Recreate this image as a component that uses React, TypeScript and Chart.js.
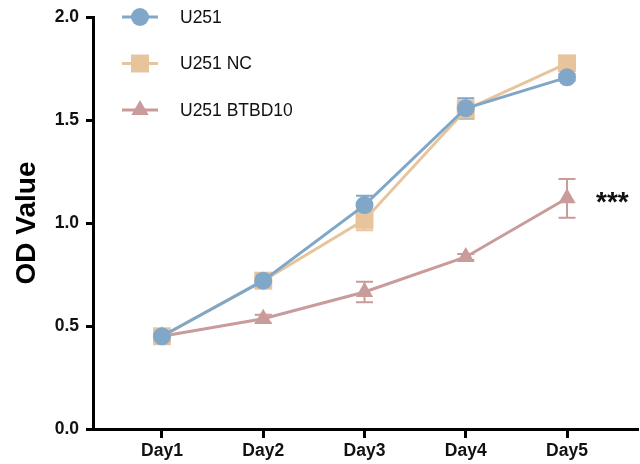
import { useEffect, useRef } from 'react';
import { Chart, registerables } from 'chart.js';

Chart.register(...registerables);

const days = ['Day1', 'Day2', 'Day3', 'Day4', 'Day5'];
const seriesLabels = ['U251', 'U251 NC', 'U251 BTBD10'];
const u251 = [0.45, 0.72, 1.087, 1.557, 1.707];
const u251Err = [0.01, 0.02, 0.045, 0.048, 0.015];
const u251NC = [0.45, 0.72, 1.015, 1.55, 1.775];
const u251NCErr = [0.01, 0.02, 0.05, 0.045, 0.02];
const btbd10 = [0.45, 0.535, 0.665, 0.835, 1.12];
const btbd10Err = [0.01, 0.02, 0.05, 0.015, 0.094];
const significance = '***';

const FONT = '"Liberation Sans", Arial, Helvetica, sans-serif';
const colors = ['#80A7C8', '#E8C49D', '#C99B9B'];
const pointStyles = ['circle', 'rect', 'triangle'];
const pointRadii = [9, 12.7, 10];

function drawMarker(ctx: CanvasRenderingContext2D, style: string, x: number, y: number, r: number) {
  ctx.beginPath();
  if (style === 'circle') {
    ctx.arc(x, y, r, 0, Math.PI * 2);
  } else if (style === 'rect') {
    const s = Math.SQRT1_2 * r;
    ctx.rect(x - s, y - s, 2 * s, 2 * s);
  } else {
    let rad = 0;
    ctx.moveTo(x + Math.sin(rad) * r, y - Math.cos(rad) * r);
    rad += (2 * Math.PI) / 3;
    ctx.lineTo(x + Math.sin(rad) * r, y - Math.cos(rad) * r);
    rad += (2 * Math.PI) / 3;
    ctx.lineTo(x + Math.sin(rad) * r, y - Math.cos(rad) * r);
    ctx.closePath();
  }
  ctx.fill();
}

export default function App() {
  const ref = useRef<HTMLCanvasElement | null>(null);

  useEffect(() => {
    document.body.style.margin = '0';
    const canvas = ref.current;
    if (!canvas) return;
    const values = [u251, u251NC, btbd10];
    const errors = [u251Err, u251NCErr, btbd10Err];

    const extras = {
      id: 'extras',
      beforeDatasetsDraw(chart: any) {
        const ctx = chart.ctx as CanvasRenderingContext2D;
        const xs = chart.scales.x;
        const ys = chart.scales.y;
        ctx.save();
        for (let d = values.length - 1; d >= 0; d--) {
          ctx.strokeStyle = colors[d];
          ctx.lineWidth = 2;
          values[d].forEach((v, i) => {
            const x = xs.getPixelForValue(i + 1);
            const yt = ys.getPixelForValue(v + errors[d][i]);
            const yb = ys.getPixelForValue(v - errors[d][i]);
            ctx.beginPath();
            ctx.moveTo(x, yt);
            ctx.lineTo(x, yb);
            ctx.moveTo(x - 8.5, yt);
            ctx.lineTo(x + 8.5, yt);
            ctx.moveTo(x - 8.5, yb);
            ctx.lineTo(x + 8.5, yb);
            ctx.stroke();
          });
        }
        ctx.restore();
      },
      afterDraw(chart: any) {
        const ctx = chart.ctx as CanvasRenderingContext2D;
        const xs = chart.scales.x;
        const ys = chart.scales.y;
        ctx.save();
        // legend
        const lx = 122;
        const ly = 17;
        seriesLabels.forEach((lab, i) => {
          const y = ly + i * 46.5;
          ctx.strokeStyle = colors[i];
          ctx.lineWidth = 3;
          ctx.beginPath();
          ctx.moveTo(lx, y);
          ctx.lineTo(lx + 36, y);
          ctx.stroke();
          ctx.fillStyle = colors[i];
          drawMarker(ctx, pointStyles[i], lx + 18, y, pointRadii[i]);
          ctx.fillStyle = '#111';
          ctx.font = `17.5px ${FONT}`;
          ctx.textAlign = 'left';
          ctx.textBaseline = 'middle';
          ctx.fillText(lab, lx + 58, y + 1);
        });
        // significance
        ctx.fillStyle = '#111';
        ctx.font = `bold 28px ${FONT}`;
        ctx.textAlign = 'left';
        ctx.textBaseline = 'middle';
        ctx.fillText(significance, xs.getPixelForValue(5) + 29, ys.getPixelForValue(btbd10[4]) + 5);
        ctx.restore();
      },
    };

    const chart = new Chart(canvas, {
      type: 'line',
      data: {
        datasets: values.map((vals, d) => ({
          label: seriesLabels[d],
          data: vals.map((v, i) => ({ x: i + 1, y: v })),
          borderColor: colors[d],
          backgroundColor: colors[d],
          borderWidth: 3,
          pointStyle: pointStyles[d] as any,
          pointRadius: pointRadii[d],
          pointBorderWidth: 0,
          pointBackgroundColor: colors[d],
          tension: 0,
        })),
      },
      options: {
        responsive: false,
        animation: false,
        devicePixelRatio: 1,
        layout: { autoPadding: false, padding: { top: 17, right: 3, left: 0, bottom: 0 } },
        plugins: {
          legend: { display: false },
          tooltip: { enabled: false },
        },
        scales: {
          x: {
            type: 'linear',
            min: 0.319,
            max: 5.691,
            afterBuildTicks: (s: any) => {
              s.ticks = days.map((_, i) => ({ value: i + 1 }));
            },
            afterFit: (s: any) => {
              s.height = 35;
              s.paddingLeft = 0;
              s.paddingRight = 0;
            },
            ticks: {
              autoSkip: false,
              maxRotation: 0,
              padding: 3,
              color: '#111',
              font: { family: FONT, size: 17.5, weight: 'bold' },
              callback: (_v: any, i: number) => days[i],
            },
            grid: {
              drawOnChartArea: false,
              drawTicks: true,
              tickLength: 9,
              lineWidth: 3,
              color: '#000',
            },
            border: { display: true, color: '#000', width: 3 },
          },
          y: {
            type: 'linear',
            min: 0,
            max: 2,
            afterFit: (s: any) => {
              s.width = 93;
              s.paddingTop = 0;
              s.paddingBottom = 0;
            },
            ticks: {
              stepSize: 0.5,
              padding: 7,
              color: '#111',
              font: { family: FONT, size: 17.5, weight: 'bold' },
              callback: (v: any) => Number(v).toFixed(1),
            },
            grid: {
              drawOnChartArea: false,
              drawTicks: true,
              tickLength: 7,
              lineWidth: 3,
              color: '#000',
            },
            border: { display: true, color: '#000', width: 3 },
            title: {
              display: true,
              text: 'OD Value',
              color: '#000',
              font: { family: FONT, size: 28, weight: 'bold' },
              padding: { top: 10, bottom: 0 },
            },
          },
        },
      },
      plugins: [extras],
    } as any);

    return () => chart.destroy();
  }, []);

  return (
    <div style={{ width: 640, height: 464 }}>
      <canvas ref={ref} width={640} height={464} style={{ display: 'block', width: 640, height: 464 }} />
    </div>
  );
}
